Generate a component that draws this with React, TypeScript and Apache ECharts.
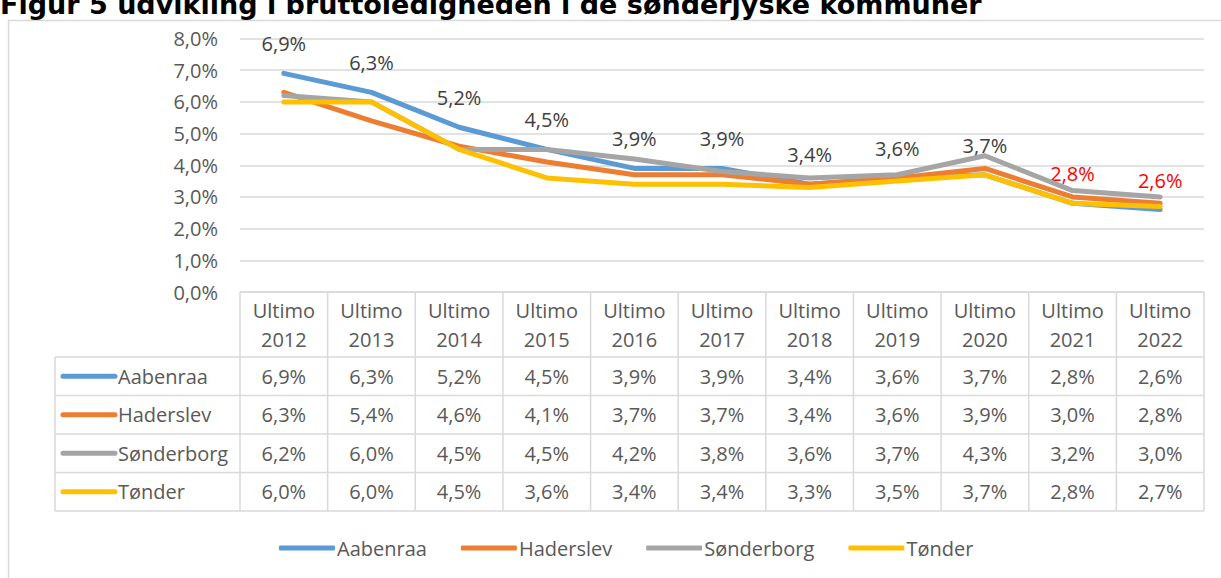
import React, { useEffect, useRef } from "react";
import * as echarts from "echarts";

const titleText = "Figur 5 udvikling i bruttoledigheden i de sønderjyske kommuner";
const categories = [
  "Ultimo 2012", "Ultimo 2013", "Ultimo 2014", "Ultimo 2015", "Ultimo 2016", "Ultimo 2017",
  "Ultimo 2018", "Ultimo 2019", "Ultimo 2020", "Ultimo 2021", "Ultimo 2022",
];
const seriesNames = ["Aabenraa", "Haderslev", "Sønderborg", "Tønder"];
const aabenraa = [6.9, 6.3, 5.2, 4.5, 3.9, 3.9, 3.4, 3.6, 3.7, 2.8, 2.6];
const haderslev = [6.3, 5.4, 4.6, 4.1, 3.7, 3.7, 3.4, 3.6, 3.9, 3.0, 2.8];
const sonderborg = [6.2, 6.0, 4.5, 4.5, 4.2, 3.8, 3.6, 3.7, 4.3, 3.2, 3.0];
const tonder = [6.0, 6.0, 4.5, 3.6, 3.4, 3.4, 3.3, 3.5, 3.7, 2.8, 2.7];
const seriesValues = [aabenraa, haderslev, sonderborg, tonder];
const colors = ["#5B9BD5", "#ED7D31", "#A5A5A5", "#FFC000"];
const yMin = 0;
const yMax = 8;
const yInterval = 1;
const redLabelFromIndex = 9;

const FONT = '"Open Sans", "Noto Sans", sans-serif';
const TEXT_GRAY = "#595959";
const BORDER = "#D9D9D9";
const FS = 20;

const fmt = (v: number) => v.toFixed(1).replace(".", ",") + "%";

export default function App() {
  const ref = useRef<HTMLDivElement>(null);
  useEffect(() => {
    if (!ref.current) return;
    const chart = echarts.init(ref.current, null, { renderer: "svg" });
    const gridLeft = 240;
    const gridRight = 17;
    const gridTop = 38.5;
    const gridBottomY = 292;
    const option: any = {
      animation: false,
      backgroundColor: "#fff",
      grid: { left: gridLeft, right: gridRight, top: gridTop, height: gridBottomY - gridTop },
      xAxis: {
        type: "category",
        data: categories,
        boundaryGap: true,
        axisLine: { show: false },
        axisTick: { show: false },
        axisLabel: { show: false },
        splitLine: { show: false },
      },
      yAxis: {
        type: "value",
        min: yMin,
        max: yMax,
        interval: yInterval,
        axisLine: { show: false },
        axisTick: { show: false },
        axisLabel: {
          formatter: (v: number) => fmt(v),
          color: TEXT_GRAY,
          fontSize: FS,
          fontFamily: FONT,
          margin: 22,
        },
        splitLine: { lineStyle: { color: BORDER, width: 1.5 } },
      },
      legend: {
        left: 274,
        top: 533,
        itemGap: 34,
        itemWidth: 56,
        itemHeight: 5,
        icon: "roundRect",
        textStyle: { color: TEXT_GRAY, fontSize: FS, fontFamily: FONT, padding: [0, 0, 0, -3] },
        data: seriesNames,
      },
      series: seriesNames.map((name, si) => ({
        name,
        type: "line",
        data: seriesValues[si].map((v, i) =>
          si === 0
            ? { value: v, label: { color: i >= redLabelFromIndex ? "#FF0000" : "#404040" } }
            : v
        ),
        symbol: "circle",
        symbolSize: 1,
        showSymbol: true,
        color: colors[si],
        itemStyle: { color: colors[si] },
        lineStyle: { color: colors[si], width: 5, cap: "round", join: "round" },
        label:
          si === 0
            ? {
                show: true,
                position: "top",
                distance: 19,
                formatter: (p: any) => fmt(p.value),
                fontSize: FS,
                fontFamily: FONT,
              }
            : { show: false },
        emphasis: { disabled: true },
        z: 2 + si,
      })),
    };
    chart.setOption(option);

    // Data table built from axis positions
    const colX = categories.map((_, i) => chart.convertToPixel({ xAxisIndex: 0 }, i) as number);
    const colW = colX.length > 1 ? colX[1] - colX[0] : 87.6;
    const tableLeftX = 55;
    const tableTop = chart.convertToPixel({ yAxisIndex: 0 }, yMin) as number;
    const headerBottom = tableTop + 65;
    const rowH = 38.5;
    const tableRight = colX[colX.length - 1] + colW / 2;
    const firstColX = colX[0] - colW / 2;
    const graphics: any[] = [];
    // frame
    graphics.push({
      type: "rect",
      shape: { x: 8.5, y: 20.5, width: 1400, height: 800 },
      style: { fill: "none", stroke: BORDER, lineWidth: 1.5 },
      z: 0,
      silent: true,
    });
    // title
    graphics.push({
      type: "text",
      x: 0,
      y: 18,
      style: {
        text: titleText,
        font: 'bold 27px "DejaVu Sans", Verdana, sans-serif',
        fill: "#000",
        verticalAlign: "bottom",
      },
      z: 10,
    });
    const hl = (x1: number, x2: number, y: number) =>
      graphics.push({
        type: "line",
        shape: { x1, y1: y, x2, y2: y },
        style: { stroke: BORDER, lineWidth: 1.5 },
        z: 5,
        silent: true,
      });
    const vl = (x: number, y1: number, y2: number) =>
      graphics.push({
        type: "line",
        shape: { x1: x, y1, x2: x, y2 },
        style: { stroke: BORDER, lineWidth: 1.5 },
        z: 5,
        silent: true,
      });
    hl(firstColX, tableRight, tableTop);
    hl(tableLeftX, tableRight, headerBottom);
    for (let r = 1; r <= seriesNames.length; r++) hl(tableLeftX, tableRight, headerBottom + r * rowH);
    const tableBottom = headerBottom + seriesNames.length * rowH;
    vl(tableLeftX, headerBottom, tableBottom);
    for (let i = 0; i <= categories.length; i++) vl(firstColX + i * colW, tableTop, tableBottom);
    // header texts
    categories.forEach((c, i) => {
      graphics.push({
        type: "text",
        x: colX[i],
        y: (tableTop + headerBottom) / 2,
        style: {
          text: c.replace(" ", "\n"),
          fill: TEXT_GRAY,
          font: `${FS}px ${FONT}`,
          align: "center",
          verticalAlign: "middle",
          lineHeight: 29,
        },
        z: 6,
      });
    });
    // rows
    seriesNames.forEach((name, si) => {
      const cy = headerBottom + si * rowH + rowH / 2;
      graphics.push({
        type: "line",
        shape: { x1: 63, y1: cy, x2: 115, y2: cy },
        style: { stroke: colors[si], lineWidth: 5, lineCap: "round" },
        z: 6,
      });
      graphics.push({
        type: "text",
        x: 118,
        y: cy,
        style: { text: name, fill: TEXT_GRAY, font: `${FS}px ${FONT}`, align: "left", verticalAlign: "middle" },
        z: 6,
      });
      seriesValues[si].forEach((v, i) => {
        graphics.push({
          type: "text",
          x: colX[i],
          y: cy,
          style: { text: fmt(v), fill: TEXT_GRAY, font: `${FS}px ${FONT}`, align: "center", verticalAlign: "middle" },
          z: 6,
        });
      });
    });
    chart.setOption({ graphic: graphics });
    return () => chart.dispose();
  }, []);
  return (
    <div
      ref={ref}
      style={{ position: "absolute", left: 0, top: 0, width: 1221, height: 578 }}
    />
  );
}
